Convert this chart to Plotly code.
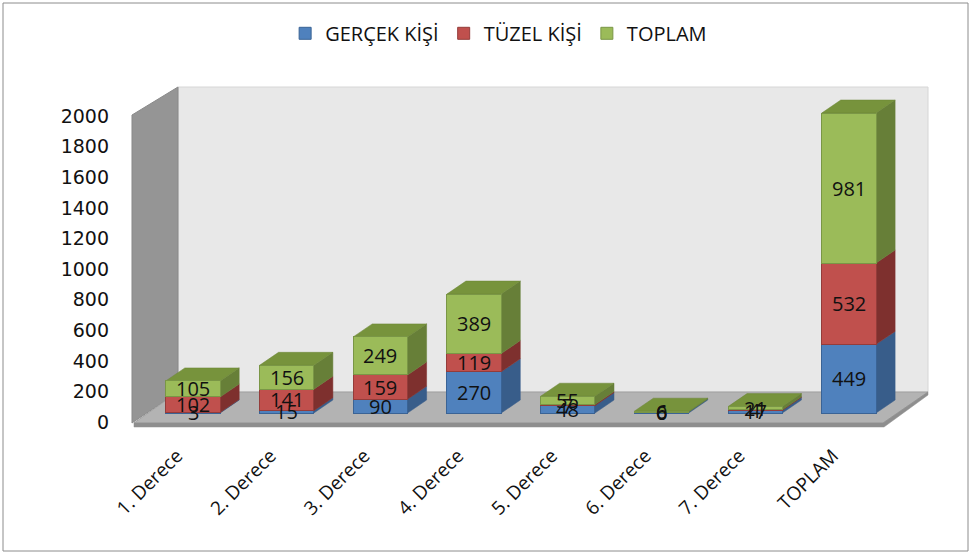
import plotly.graph_objects as go

categories = ["1. Derece", "2. Derece", "3. Derece", "4. Derece", "5. Derece", "6. Derece", "7. Derece", "TOPLAM"]
gercek = [3, 15, 90, 270, 48, 6, 17, 449]
tuzel = [102, 141, 159, 119, 7, 0, 4, 532]
toplam = [105, 156, 249, 389, 55, 6, 21, 981]
series_names = ["GERÇEK KİŞİ", "TÜZEL KİŞİ", "TOPLAM"]
y_ticks = list(range(0, 2001, 200))

W, H = 972, 555
ML, MR, MT, MB = 120, 32, 80, 125
PW, PH = W - ML - MR, H - MT - MB

front = ["#4F81BD", "#C0504D", "#9BBB59"]
side = ["#385D8A", "#7E302E", "#677F38"]
edge = ["#3A6395", "#943C3A", "#7A9646"]
top_col = "#77933C"

X_RANGE = [-0.779, 7.972]
Y_RANGE = [-111, 2178]
BW = 0.58
DX = 0.203
DY = 85


def px(xp, yp):
    return (xp - ML) / PW, (H - MB - yp) / PH


def ppath(pts):
    s = ""
    for i, (a, b) in enumerate(pts):
        xa, yb = px(a, b)
        s += ("M" if i == 0 else "L") + f"{xa:.5f},{yb:.5f} "
    return s + "Z"


shapes = []
# outer border
bx0, by0 = px(3, 3)
bx1, by1 = px(968, 551)
shapes.append(dict(type="rect", xref="paper", yref="paper", x0=bx0, y0=by1, x1=bx1, y1=by0,
                   line=dict(color="#8C8C8C", width=1), fillcolor="rgba(0,0,0,0)", layer="below"))
# back wall
shapes.append(dict(type="path", xref="paper", yref="paper",
                   path=ppath([(178, 87), (928, 87), (928, 392), (178, 392)]),
                   fillcolor="#E8E8E8", line=dict(color="#D6D6D6", width=1), layer="below"))
# left wall
shapes.append(dict(type="path", xref="paper", yref="paper",
                   path=ppath([(132, 115), (178, 87), (178, 392), (132, 423)]),
                   fillcolor="#959595", line=dict(color="#8A8A8A", width=1), layer="below"))
# floor
shapes.append(dict(type="path", xref="paper", yref="paper",
                   path=ppath([(134, 423), (178, 392), (928, 392), (883, 423)]),
                   fillcolor="#B3B3B3", line=dict(color="#A0A0A0", width=1), layer="below"))
shapes.append(dict(type="path", xref="paper", yref="paper",
                   path=ppath([(134, 423), (883, 423), (928, 392), (928, 395), (884, 427), (134, 427)]),
                   fillcolor="#8E8E8E", line=dict(color="#8E8E8E", width=0.5), layer="below"))

# 3D side and top faces from data
series = [gercek, tuzel, toplam]
for i in range(len(categories)):
    base = 0
    for s, vals in enumerate(series):
        v = vals[i]
        xr = i + BW / 2
        y0, y1 = base, base + v
        if v > 0:
            shapes.append(dict(type="path", xref="x", yref="y",
                               path=f"M{xr},{y0} L{xr + DX},{y0 + DY} L{xr + DX},{y1 + DY} L{xr},{y1} Z",
                               fillcolor=side[s], line=dict(color=side[s], width=0.5), layer="below"))
        base = y1
    xl = i - BW / 2
    xr = i + BW / 2
    shapes.append(dict(type="path", xref="x", yref="y",
                       path=f"M{xl},{base} L{xr},{base} L{xr + DX},{base + DY} L{xl + DX},{base + DY} Z",
                       fillcolor=top_col, line=dict(color="#6A8535", width=0.5), layer="below"))

fig = go.Figure()
xs = list(range(len(categories)))
for s, vals in enumerate(series):
    fig.add_trace(go.Bar(x=xs, y=vals, name=series_names[s], width=BW,
                         marker=dict(color=front[s], line=dict(color=edge[s], width=1))))

annotations = []
for i in range(len(categories)):
    base = 0
    for s, vals in enumerate(series):
        v = vals[i]
        annotations.append(dict(x=i, y=base + v / 2, xref="x", yref="y", text=str(v), showarrow=False,
                                font=dict(family="Open Sans", size=20, color="#111111")))
        base += v

fig.update_layout(
    barmode="stack",
    width=W, height=H,
    margin=dict(l=ML, r=MR, t=MT, b=MB),
    paper_bgcolor="white", plot_bgcolor="rgba(0,0,0,0)",
    shapes=shapes, annotations=annotations,
    showlegend=True,
    legend=dict(orientation="h", xref="container", yref="container", x=0.513, y=0.94,
                xanchor="center", yanchor="middle",
                font=dict(family="Open Sans", size=20, color="#111111"),
                itemwidth=30, traceorder="normal"),
    xaxis=dict(range=X_RANGE, tickmode="array", tickvals=xs, ticktext=categories, tickangle=-45,
               showgrid=False, zeroline=False, showline=False, ticks="",
               tickfont=dict(family="Open Sans", size=19, color="#111111"),
               ticklabelstandoff=10, ticklabelshift=-16),
    yaxis=dict(range=Y_RANGE, tickmode="array", tickvals=y_ticks, showgrid=False, zeroline=False,
               showline=False, ticks="", ticklabelshift=9, ticklabelstandoff=10,
               tickfont=dict(family="DejaVu Sans", size=19, color="#111111")),
)

fig.write_html("out.html", config={"displayModeBar": False},
               post_script="document.body.style.margin='0';document.body.style.overflow='hidden';")
